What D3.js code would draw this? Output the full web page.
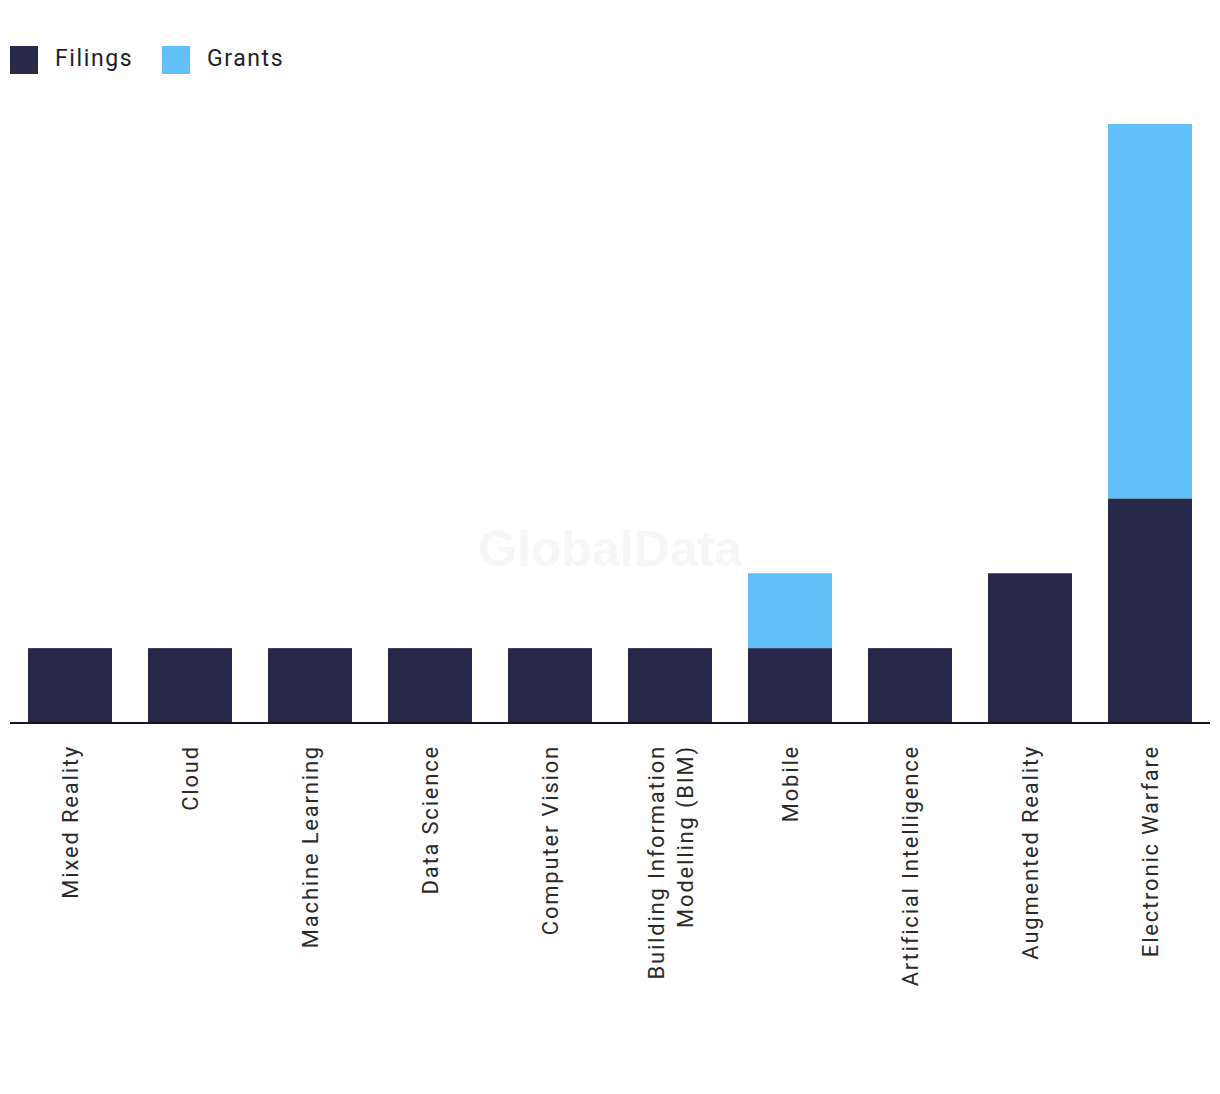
<!DOCTYPE html>
<html><head><meta charset="utf-8">
<script src="https://cdn.jsdelivr.net/npm/d3@7"></script>
<style>body{margin:0;background:#fff;font-family:Roboto,"Noto Sans",sans-serif;}</style>
</head><body>
<svg id="c" width="1220" height="1094"></svg>
<script>
const categories = ["Mixed Reality","Cloud","Machine Learning","Data Science","Computer Vision","Building Information Modelling (BIM)","Mobile","Artificial Intelligence","Augmented Reality","Electronic Warfare"];
const labelLines = [["Mixed Reality"],["Cloud"],["Machine Learning"],["Data Science"],["Computer Vision"],["Building Information","Modelling (BIM)"],["Mobile"],["Artificial Intelligence"],["Augmented Reality"],["Electronic Warfare"]];
const filings = [1,1,1,1,1,1,1,1,2,3];
const grants = [0,0,0,0,0,0,1,0,0,5];
const seriesNames = ["Filings","Grants"];
const colors = ["#27284a","#63c1f9"];

const svg = d3.select("#c");
const x = d3.scaleBand().domain(categories).range([10,1210]).paddingInner(0.3).paddingOuter(0.15);
const y = d3.scaleLinear().domain([0,8]).range([723,124]);

svg.append("text").attr("x",610).attr("y",566).attr("text-anchor","middle")
  .attr("font-size",50).attr("font-weight","bold").attr("fill","#f6f6f6")
  .attr("font-family","Liberation Sans, Arial, sans-serif").text("GlobalData");

const rows = categories.map((c,i)=>({c, f:filings[i], g:grants[i]}));
const stack = d3.stack().keys(["f","g"])(rows);
svg.selectAll("g.s").data(stack).join("g").attr("fill",(d,i)=>colors[i])
  .selectAll("rect").data(d=>d).join("rect")
  .attr("x",d=>x(d.data.c)).attr("width",x.bandwidth())
  .attr("y",d=>y(d[1])).attr("height",d=>y(d[0])-y(d[1]));

svg.append("line").attr("x1",10).attr("x2",1210).attr("y1",723).attr("y2",723)
  .attr("stroke","#15152a").attr("stroke-width",2);

categories.forEach((c,i)=>{
  const lines = labelLines[i];
  const cx = x(c)+x.bandwidth()/2;
  const n = lines.length;
  lines.forEach((l,j)=>{
    const off = (j-(n-1)/2)*29;
    svg.append("text").attr("transform",`translate(${cx+off+8},745) rotate(-90)`)
      .attr("text-anchor","end")
      .attr("font-size",22).attr("fill","#2a2a2a").attr("letter-spacing",1.8)
      .text(l);
  });
});

const leg = svg.append("g");
const legX = [10,162];
seriesNames.forEach((s,i)=>{
  leg.append("rect").attr("x",legX[i]).attr("y",46).attr("width",28).attr("height",28).attr("fill",colors[i]);
  leg.append("text").attr("x",legX[i]+45).attr("y",66).attr("font-size",23).attr("fill","#1e1e2e").attr("letter-spacing",1.6).text(s);
});
</script>
</body></html>
